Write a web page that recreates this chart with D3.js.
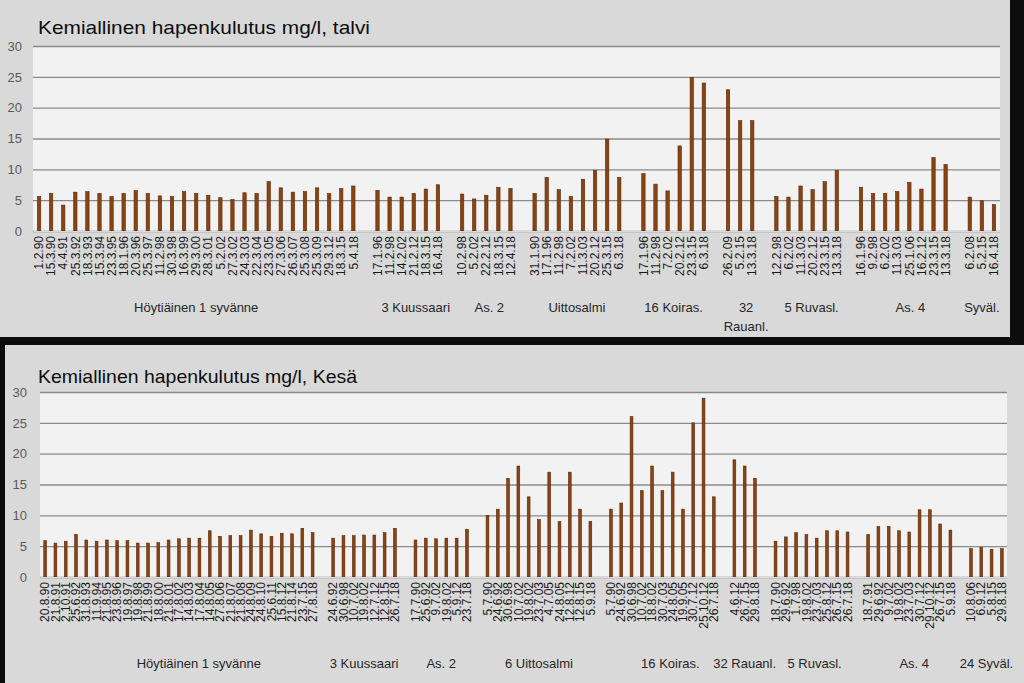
<!DOCTYPE html>
<html><head><meta charset="utf-8">
<script src="https://cdn.jsdelivr.net/npm/d3@7"></script>
<style>body{margin:0;background:#0d0d0d;} svg{display:block}</style>
</head><body><svg id="c" width="1024" height="683"></svg>
<script>
// ---------------- DATA ----------------
const yTicks = [0, 5, 10, 15, 20, 25, 30];

const talviTitle = "Kemiallinen hapenkulutus mg/l, talvi";
const talviGroups = ["Höytiäinen 1 syvänne", "3 Kuussaari", "As. 2", "Uittosalmi", "16 Koiras.", "32\nRauanl.", "5 Ruvasl.", "As. 4", "Syväl."];
const talviDates = [
  ["1.2.90","15.3.90","4.4.91","25.3.92","18.3.93","15.3.94","23.3.95","18.1.96","20.3.96","25.3.97","11.2.98","30.3.98","16.3.99","29.3.00","28.3.01","5.2.02","27.3.02","24.3.03","22.3.04","23.3.05","27.3.06","26.3.07","25.3.08","25.3.09","29.3.12","18.3.15","5.4.18"],
  ["17.1.96","11.2.98","14.2.02","21.2.12","18.3.15","16.4.18"],
  ["10.2.98","5.2.02","22.2.12","18.3.15","12.4.18"],
  ["31.1.90","17.1.96","11.2.98","7.2.02","11.3.03","20.2.12","25.3.15","6.3.18"],
  ["17.1.96","11.2.98","7.2.02","20.2.12","23.3.15","6.3.18"],
  ["26.2.09","5.2.15","13.3.18"],
  ["12.2.98","6.2.02","11.3.03","20.2.12","23.3.15","13.3.18"],
  ["16.1.96","9.2.98","6.2.02","11.3.03","25.1.06","16.2.12","23.3.15","13.3.18"],
  ["6.2.08","5.2.15","16.4.18"]
];
const talviValues = [
  [5.6,6.1,4.2,6.3,6.4,6.1,5.6,6.1,6.55,6.1,5.7,5.6,6.4,6.1,5.8,5.4,5.1,6.2,6.1,8.0,7.0,6.3,6.4,7.0,6.1,6.9,7.3],
  [6.6,5.5,5.5,6.1,6.8,7.5],
  [6.0,5.2,5.8,7.1,6.9],
  [6.1,8.7,6.7,5.6,8.4,9.8,14.9,8.7],
  [9.3,7.6,6.5,13.8,24.9,24.0],
  [22.9,17.9,17.9],
  [5.6,5.5,7.3,6.7,8.0,9.8],
  [7.1,6.1,6.1,6.4,7.9,6.8,11.9,10.8],
  [5.5,4.9,4.3]
];

const kesaTitle = "Kemiallinen hapenkulutus mg/l, Kesä";
const kesaGroups = ["Höytiäinen 1 syvänne", "3 Kuussaari", "As. 2", "6 Uittosalmi", "16 Koiras.", "32 Rauanl.", "5 Ruvasl.", "As. 4", "24 Syväl."];
const kesaDates = [
  ["20.8.90","21.8.91","2.10.91","25.6.92","31.8.93","11.9.94","21.8.95","23.8.96","19.8.97","19.8.98","21.8.99","18.8.00","21.8.01","17.8.02","14.8.03","17.8.04","14.8.05","27.8.06","21.8.07","21.8.08","24.8.09","24.8.10","25.6.11","15.8.12","21.8.14","23.7.15","27.8.18"],
  ["24.6.92","30.6.98","10.7.02","19.8.02","12.7.12","12.8.15","26.7.18"],
  ["17.7.90","25.6.92","9.7.02","19.8.02","5.9.12","23.7.18"],
  ["5.7.90","24.6.92","30.6.98","10.7.02","19.8.02","23.7.03","4.7.05","24.8.05","12.8.12","12.8.15","5.9.18"],
  ["5.7.90","24.6.92","30.6.98","10.7.02","18.8.02","30.7.03","24.8.05","19.9.05","30.7.12","25.10.12","26.7.18"],
  ["4.6.12","26.7.15","29.8.18"],
  ["18.7.90","29.6.92","1.7.98","19.8.02","23.7.03","25.8.12","26.7.15","26.7.18"],
  ["18.7.91","29.6.92","9.7.02","19.8.02","23.7.03","30.7.12","29.10.12","26.7.15","5.9.18"],
  ["10.8.06","6.9.12","5.8.15","29.8.18"]
];
const kesaValues = [
  [5.9,5.5,5.8,6.9,6.0,5.8,6.0,5.9,5.9,5.5,5.5,5.6,6.0,6.2,6.3,6.3,7.5,6.6,6.7,6.7,7.6,7.0,6.6,7.1,7.0,7.9,7.2],
  [6.3,6.7,6.7,6.8,6.8,7.2,7.9],
  [6.0,6.3,6.2,6.3,6.3,7.7],
  [10,11,16,18,13,9.3,17,9.0,17,11,9.0],
  [11,12,26,14,18,14,17,11,25,29,13],
  [19,18,16],
  [5.8,6.5,7.2,6.9,6.3,7.5,7.5,7.3],
  [6.9,8.2,8.2,7.5,7.3,10.9,10.9,8.6,7.6],
  [4.6,4.8,4.5,4.6]
];

// ---------------- LAYOUT ----------------
const svg = d3.select("#c");
svg.append("rect").attr("width", 1024).attr("height", 683).attr("fill", "#0d0d0d");

const BAR = "#8a4313", BAR_EDGE = "#5a2808";
const FONT = "'Liberation Sans', Arial, sans-serif";

function drawChart(cfg) {
  const g = svg.append("g");
  g.append("rect").attr("x", cfg.panel[0]).attr("y", cfg.panel[1])
    .attr("width", cfg.panel[2]).attr("height", cfg.panel[3]).attr("fill", "#d9d9d9");

  // build slots: each group followed by one empty slot
  const slots = [];
  const groupInfo = [];
  cfg.groups.forEach((name, gi) => {
    const start = slots.length;
    cfg.dates[gi].forEach((d, i) => slots.push({id: "s" + slots.length, label: d, value: cfg.values[gi][i]}));
    const end = slots.length - 1;
    groupInfo.push({name, start, end});
    if (gi < cfg.groups.length - 1) slots.push({id: "s" + slots.length, label: "", value: null});
  });

  const x = d3.scaleBand().domain(slots.map(s => s.id)).range([cfg.left, cfg.right]).padding(0);
  const y = d3.scaleLinear().domain([0, 30]).range([cfg.bottom, cfg.top]);

  g.append("rect").attr("x", cfg.left).attr("y", cfg.top)
    .attr("width", cfg.right - cfg.left).attr("height", cfg.bottom - cfg.top).attr("fill", "#f2f2f2");

  // y axis + gridlines
  const ya = g.append("g").attr("transform", `translate(${cfg.left},0)`)
    .call(d3.axisLeft(y).tickValues(yTicks).tickSize(-(cfg.right - cfg.left)).tickPadding(cfg.yPad));
  ya.select(".domain").remove();
  ya.selectAll(".tick line").attr("stroke", "#8a8a8a").attr("stroke-width", 1.4);
  ya.selectAll(".tick text").attr("fill", "#595959").style("font", `13px ${FONT}`);

  // bars
  const bw = x.bandwidth() * cfg.barFrac;
  g.append("g").selectAll("rect").data(slots.filter(s => s.value != null)).join("rect")
    .attr("x", d => x(d.id) + (x.bandwidth() - bw) / 2)
    .attr("y", d => y(d.value))
    .attr("width", bw)
    .attr("height", d => y(0) - y(d.value))
    .attr("fill", BAR).attr("stroke", BAR_EDGE).attr("stroke-width", 0.6);

  // x axis with rotated date labels
  const xa = g.append("g").attr("transform", `translate(0,${cfg.bottom})`)
    .call(d3.axisBottom(x).tickSize(0).tickFormat(id => slots.find(s => s.id === id).label));
  xa.select(".domain").attr("stroke", "#d9d9d9");
  xa.selectAll(".tick text")
    .attr("transform", `translate(0,${cfg.labelGap}) rotate(-90)`)
    .attr("x", 0).attr("y", 0).attr("dy", "0.35em")
    .attr("text-anchor", "end")
    .attr("fill", "#1a1a1a")
    .style("font", `${cfg.dateFont}px ${FONT}`);

  // group labels
  const gl = g.append("g");
  groupInfo.forEach((gi, i) => {
    const cx = (x(slots[gi.start].id) + x(slots[gi.end].id) + x.bandwidth()) / 2 + (cfg.groupShift[i] || 0);
    const lines = gi.name.split("\n");
    const t = gl.append("text").attr("x", cx).attr("y", cfg.groupY)
      .attr("text-anchor", "middle").attr("fill", "#262626")
      .style("font", `13px ${FONT}`);
    lines.forEach((ln, k) => t.append("tspan").attr("x", cx).attr("dy", k === 0 ? 0 : 19).text(ln));
  });

  // title
  g.append("text").attr("x", cfg.titleX).attr("y", cfg.titleY)
    .attr("fill", "#0d0d0d").style("font", `19px ${FONT}`)
    .attr("textLength", cfg.titleLen).attr("lengthAdjust", "spacingAndGlyphs")
    .text(cfg.title);
}

drawChart({
  panel: [0, 0, 1010, 337],
  title: talviTitle, groups: talviGroups, dates: talviDates, values: talviValues,
  left: 33, right: 1000, top: 46, bottom: 231,
  yPad: 11, barFrac: 0.28, labelGap: 5, dateFont: 12, groupY: 312,
  groupShift: [0, 8, 3, 0, 0, 6, 5, 7, 0], titleX: 38, titleY: 34, titleLen: 332
});

drawChart({
  panel: [5, 345, 1019, 338],
  title: kesaTitle, groups: kesaGroups, dates: kesaDates, values: kesaValues,
  left: 40, right: 1007, top: 392, bottom: 577,
  yPad: 13, barFrac: 0.27, labelGap: 5, dateFont: 12, groupY: 668,
  groupShift: [20, 0, 0, 0, 8, 0, 3, 5, 0], titleX: 38, titleY: 383, titleLen: 319
});
</script>
</body></html>
